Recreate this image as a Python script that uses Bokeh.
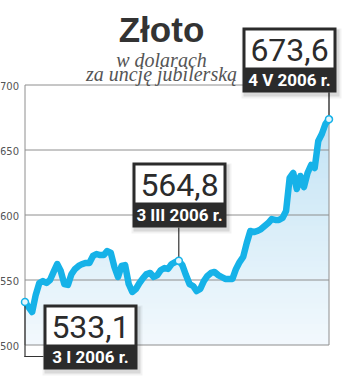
import numpy as np
from bokeh.plotting import figure
from bokeh.models import Range1d, BoxAnnotation, Label
from bokeh.embed import file_html
from bokeh.resources import INLINE

# ---------------- data ----------------
# gold price, USD per troy ounce, trading days 3 I 2006 .. 4 V 2006
values = [
    533.1, 529.2, 525.4, 538.5, 547.7, 549.2, 547.7, 550.0, 556.2, 562.3,
    556.9, 546.9, 546.2, 554.6, 558.5, 560.8, 562.3, 563.1, 563.1, 568.5,
    570.0, 569.2, 569.2, 572.3, 570.8, 560.0, 552.3, 560.8, 561.5, 546.9,
    540.8, 543.1, 547.7, 551.5, 554.6, 555.4, 552.3, 553.8, 557.7, 559.2,
    558.5, 562.3, 563.8, 564.8, 561.5, 553.8, 546.9, 545.4, 541.5, 543.1,
    549.2, 553.1, 555.4, 556.2, 553.8, 552.3, 550.8, 550.8, 550.8, 558.5,
    563.8, 567.7, 578.5, 587.7, 586.9, 587.7, 589.2, 591.5, 593.8, 596.9,
    596.2, 596.2, 597.7, 603.1, 628.5, 632.3, 620.0, 630.0, 621.5, 632.3,
    638.5, 636.2, 656.9, 662.3, 670.0, 673.6,
]
day = list(range(len(values)))
y_ticks = [500, 550, 600, 650, 700]
y_tick_labels = ["500", "550", "600", "650", "700"]

ann_idx = [0, 43, 85]
ann_val = [533.1, 564.8, 673.6]
ann_num = ["533,1", "564,8", "673,6"]
ann_date = ["3 I 2006 r.", "3 III 2006 r.", "4 V 2006 r."]

title_text = "Złoto"
subtitle_lines = ["w dolarach", "za uncję jubilerską"]

# ---------------- layout / style ----------------
W, H = 350, 380
# pixel position of the plotting area (data extent) inside the canvas
FL, FR, FT, FB = 24.5, 328.5, 84.5, 344.5
XMIN, XMAX = 0, len(values) - 1
YMIN, YMAX = 500, 700
LINE = "#16b2e8"
GRID = "#8e8e8e"
DARK = "#2b2b2b"

def X(px):
    return XMIN + (px - FL) * (XMAX - XMIN) / (FR - FL)

def Y(py):
    return YMIN + (FB - py) * (YMAX - YMIN) / (FB - FT)

def PX(x):
    return FL + (x - XMIN) * (FR - FL) / (XMAX - XMIN)

def PY(y):
    return FB - (y - YMIN) * (FB - FT) / (YMAX - YMIN)

p = figure(width=W, height=H, output_backend="svg", toolbar_location=None,
           x_axis_type=None, y_axis_type=None,
           x_range=Range1d(X(0), X(W)), y_range=Range1d(Y(H), Y(0)),
           min_border=0)
p.background_fill_color = "white"
p.border_fill_color = "white"
p.outline_line_color = None

# ---------------- gradient fill under line ----------------
def mix(c1, c2, t):
    a = [int(c1[i:i + 2], 16) for i in (1, 3, 5)]
    b = [int(c2[i:i + 2], 16) for i in (1, 3, 5)]
    return "#%02x%02x%02x" % tuple(round(a[k] + (b[k] - a[k]) * t) for k in range(3))

vals = np.array(values)
bottom_col, top_col = "#f3f9fd", "#c0e2f4"
for btop in np.arange(684, 500, -4):
    t = (btop - 500) / 184
    p.varea(x=day, y1=YMIN, y2=np.minimum(vals, btop),
            fill_color=mix(bottom_col, top_col, t), fill_alpha=1)

# ---------------- grid, frame, tick labels ----------------
n = len(y_ticks)
p.segment(x0=[XMIN] * n, x1=[XMAX] * n, y0=y_ticks, y1=y_ticks,
          line_color=GRID, line_width=1)
p.segment(x0=[XMIN, XMAX], x1=[XMIN, XMAX], y0=[YMIN, YMIN], y1=[YMAX, YMAX],
          line_color=GRID, line_width=1)
p.text(x=[XMIN] * n, y=y_ticks, text=y_tick_labels, x_offset=-6, y_offset=1,
       text_align="right", text_baseline="alphabetic",
       text_font={"value": "DejaVu Sans"}, text_font_size="10px",
       text_color="#555555")

# ---------------- series ----------------
p.line(day, values, line_color=LINE, line_width=6.5,
       line_join="round", line_cap="round")

# ---------------- annotations ----------------
def box(l, t, r, b, color, alpha=1.0):
    p.add_layout(BoxAnnotation(left=X(l), right=X(r), top=Y(t), bottom=Y(b),
                               fill_color=color, fill_alpha=alpha,
                               line_color=None))

def label(px, py, text, font, size, color, style="normal",
          align="center", baseline="middle"):
    p.add_layout(Label(x=X(px), y=Y(py), text=text, text_font=font,
                       text_font_size=size, text_color=color,
                       text_font_style=style, text_align=align,
                       text_baseline=baseline))

BOX_W, BORDER, WHITE_H, BAND_H = 94, 3, 37, 25
BOX_H = BORDER + WHITE_H + BAND_H
box_pos = [(43, 304), (132, 162), (242, 27)]

# leader lines
mx0, my0 = PX(ann_idx[0]), PY(ann_val[0])
box(mx0 - 0.6, my0 + 3.5, mx0 + 0.6, 356.6, "#333333")
box(mx0 - 0.6, 355.4, box_pos[0][0], 356.6, "#333333")
mx1, my1 = PX(ann_idx[1]), PY(ann_val[1])
box(mx1 - 0.6, box_pos[1][1] + BOX_H, mx1 + 0.6, my1 - 3.5, "#333333")
mx2, my2 = PX(ann_idx[2]), PY(ann_val[2])
box(mx2 - 0.6, box_pos[2][1] + BOX_H, mx2 + 0.6, my2 - 3.5, "#333333")

for (bx, by), num, dt in zip(box_pos, ann_num, ann_date):
    box(bx - 1, by + 1, bx + BOX_W + 5, by + BOX_H + 6, "#000000", 0.05)
    box(bx + 1, by + 2, bx + BOX_W + 3, by + BOX_H + 4, "#000000", 0.10)
    box(bx, by, bx + BOX_W, by + BOX_H, DARK)
    box(bx + BORDER, by + BORDER, bx + BOX_W - BORDER, by + BORDER + WHITE_H, "#ffffff")
    label(bx + BOX_W / 2, by + BORDER + WHITE_H / 2 + 1, num, "Roboto", "32px", DARK)
    label(bx + BOX_W / 2, by + BORDER + WHITE_H + BAND_H / 2, dt, "Roboto", "17px",
          "#ffffff", style="bold")

# markers on top of leader lines
p.scatter(ann_idx, ann_val, size=7, fill_color="#e4f5fc",
          line_color=LINE, line_width=1.5, level="overlay")

# title and subtitle
label(161, 29, title_text, "Liberation Sans", "35px", "#333333", style="bold",
      baseline="alphabetic")
label(161, 59, subtitle_lines[0], "Liberation Serif", "20px", "#555555",
      style="italic", baseline="alphabetic")
label(161, 73, subtitle_lines[1], "Liberation Serif", "20px", "#555555",
      style="italic", baseline="alphabetic")

open("out.html", "w").write(file_html(p, INLINE))
